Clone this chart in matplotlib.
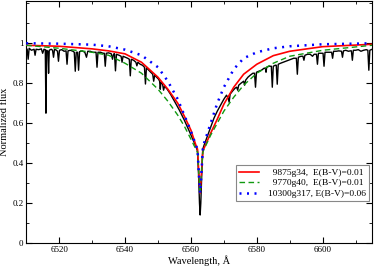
import matplotlib
matplotlib.use('Agg')
import matplotlib.pyplot as plt
from matplotlib.ticker import MultipleLocator

plt.rcParams['font.family'] = ['Liberation Serif', 'DejaVu Serif']

obs_wl = [6510.0, 6510.3, 6510.6, 6510.9, 6511.6, 6512.4, 6512.7, 6513.0, 6513.8, 6514.6,
          6515.0, 6515.4, 6515.8, 6516.0, 6516.2, 6516.6, 6516.8, 6517.0, 6517.6, 6518.0,
          6518.3, 6518.6, 6519.2, 6519.5, 6519.8, 6520.1, 6520.8, 6521.5, 6522.1, 6522.4,
          6522.7, 6523.4, 6524.2, 6524.6, 6524.9, 6525.2, 6525.6, 6525.9, 6526.2, 6527.0,
          6527.8, 6528.3, 6528.7, 6529.4, 6530.2, 6531.2, 6531.5, 6531.8, 6532.6, 6533.3,
          6533.7, 6534.0, 6534.3, 6535.0, 6535.8, 6536.2, 6536.5, 6536.8, 6537.1, 6537.4,
          6538.2, 6538.8, 6539.1, 6539.4, 6540.1, 6540.8, 6541.3, 6541.6, 6541.9, 6542.6,
          6543.3, 6543.6, 6543.9, 6544.6, 6545.3, 6545.9, 6546.2, 6546.5, 6547.2, 6547.8,
          6548.4, 6548.7, 6549.0, 6549.6, 6550.2, 6550.5, 6550.7, 6550.9, 6551.4, 6551.7,
          6552.0, 6552.8, 6553.8, 6555.0, 6556.5, 6558.0, 6559.5, 6560.8, 6561.6, 6562.0,
          6562.3, 6562.6, 6562.8, 6563.0, 6563.3, 6563.6, 6564.0, 6565.0, 6566.0, 6567.0,
          6568.0, 6569.0, 6570.0, 6570.8, 6571.3, 6571.6, 6571.9, 6572.6, 6573.4, 6573.9,
          6574.2, 6574.5, 6575.2, 6576.0, 6576.3, 6576.6, 6577.3, 6578.0, 6578.8, 6579.3,
          6579.6, 6579.9, 6580.6, 6581.4, 6582.2, 6582.6, 6582.8, 6583.0, 6583.7, 6584.4,
          6584.7, 6585.0, 6585.6, 6585.9, 6586.2, 6586.5, 6587.2, 6588.0, 6588.8, 6589.6,
          6590.4, 6591.2, 6592.0, 6592.3, 6592.6, 6593.4, 6594.0, 6594.3, 6594.6, 6595.4,
          6596.2, 6596.9, 6597.4, 6598.1, 6598.4, 6598.7, 6599.4, 6600.1, 6600.4, 6600.7,
          6601.4, 6602.2, 6602.7, 6603.0, 6603.3, 6604.1, 6604.9, 6605.7, 6606.0, 6606.3,
          6607.0, 6607.8, 6608.4, 6608.7, 6609.0, 6609.3, 6610.0, 6610.8, 6611.6, 6612.4,
          6613.2, 6613.7, 6614.0, 6614.3, 6615.0]
obs_flux = [0.975, 0.97, 0.92, 0.975, 0.965, 0.97, 0.94, 0.97, 0.968, 0.972,
            0.95, 0.97, 0.968, 0.65, 0.965, 0.96, 0.85, 0.965, 0.97, 0.965,
            0.93, 0.97, 0.965, 0.96, 0.91, 0.965, 0.968, 0.96, 0.962, 0.895,
            0.962, 0.965, 0.96, 0.955, 0.86, 0.955, 0.955, 0.865, 0.958, 0.962,
            0.955, 0.93, 0.96, 0.96, 0.955, 0.955, 0.88, 0.955, 0.955, 0.95,
            0.95, 0.885, 0.95, 0.952, 0.948, 0.92, 0.945, 0.948, 0.862, 0.945,
            0.94, 0.935, 0.905, 0.935, 0.93, 0.925, 0.92, 0.837, 0.92, 0.915,
            0.905, 0.887, 0.905, 0.895, 0.89, 0.88, 0.796, 0.877, 0.865, 0.855,
            0.845, 0.81, 0.84, 0.83, 0.82, 0.81, 0.77, 0.805, 0.795, 0.765,
            0.785, 0.77, 0.745, 0.71, 0.665, 0.615, 0.56, 0.51, 0.48, 0.46,
            0.35, 0.20, 0.14, 0.20, 0.35, 0.47, 0.49, 0.535, 0.58, 0.625,
            0.66, 0.69, 0.72, 0.74, 0.725, 0.705, 0.745, 0.76, 0.775, 0.78,
            0.765, 0.79, 0.80, 0.81, 0.79, 0.815, 0.83, 0.84, 0.85, 0.85,
            0.78, 0.855, 0.86, 0.865, 0.875, 0.875, 0.855, 0.88, 0.885, 0.885,
            0.78, 0.885, 0.89, 0.89, 0.795, 0.895, 0.90, 0.905, 0.91, 0.915,
            0.92, 0.925, 0.925, 0.845, 0.93, 0.935, 0.935, 0.915, 0.94, 0.945,
            0.945, 0.935, 0.945, 0.945, 0.895, 0.95, 0.95, 0.95, 0.885, 0.955,
            0.955, 0.955, 0.955, 0.925, 0.96, 0.96, 0.962, 0.96, 0.93, 0.962,
            0.965, 0.96, 0.962, 0.962, 0.915, 0.965, 0.965, 0.968, 0.96, 0.965,
            0.968, 0.965, 0.865, 0.965, 0.97]

# model profiles
mod_wl = [6510, 6520, 6530, 6535, 6540, 6545, 6550, 6553, 6556, 6558, 6560, 6561.5,
          6562, 6562.4, 6562.8, 6563.2, 6563.6, 6564, 6566, 6568, 6570, 6573, 6576,
          6580, 6585, 6590, 6600, 6615]
red_flux = [0.99, 0.985, 0.972, 0.962, 0.947, 0.905, 0.83, 0.77, 0.70, 0.635, 0.565, 0.49,
            0.47, 0.35, 0.25, 0.35, 0.46, 0.475, 0.55, 0.62, 0.695, 0.78, 0.845,
            0.895, 0.938, 0.96, 0.983, 0.995]
green_flux = [0.99, 0.975, 0.955, 0.94, 0.90, 0.85, 0.77, 0.71, 0.64, 0.585, 0.52, 0.47,
              0.455, 0.35, 0.25, 0.35, 0.455, 0.47, 0.54, 0.60, 0.66, 0.73, 0.79,
              0.85, 0.90, 0.935, 0.965, 0.99]
blue_flux = [1.0, 0.998, 0.993, 0.985, 0.968, 0.94, 0.88, 0.81, 0.72, 0.64, 0.56, 0.49,
             0.47, 0.35, 0.25, 0.35, 0.47, 0.50, 0.60, 0.70, 0.78, 0.87, 0.925,
             0.955, 0.975, 0.985, 0.995, 1.0]

labels = ['  9875g34,  E(B-V)=0.01', '  9770g40,  E(B-V)=0.01', '10300g317, E(B-V)=0.06']

fig = plt.figure(figsize=(3.74, 2.67), dpi=100)
ax = fig.add_axes([0.07, 0.09, 0.925, 0.905])

ax.plot(obs_wl, obs_flux, color='black', lw=1.0, zorder=2)
ax.plot(mod_wl, red_flux, color='#ff0000', lw=1.2, label=labels[0], zorder=3)
ax.plot(mod_wl, green_flux, color='#119911', lw=1.0, ls=(0, (4, 2.5)), label=labels[1], zorder=3)
ax.plot(mod_wl, blue_flux, color='#0000ff', lw=1.8, ls=(0, (0.8, 2.2)), label=labels[2], zorder=3)

ax.set_xlim(6510, 6615)
ax.set_ylim(0, 1.21)
ax.xaxis.set_major_locator(MultipleLocator(20))
ax.xaxis.set_minor_locator(MultipleLocator(10))
ax.yaxis.set_major_locator(MultipleLocator(0.2))
ax.yaxis.set_minor_locator(MultipleLocator(0.1))
ax.set_yticks([0, 0.2, 0.4, 0.6, 0.8, 1.0])
ax.set_yticklabels(['0', '0.2', '0.4', '0.6', '0.8', '1'])
ax.tick_params(which='both', direction='in', top=True, right=True, labelsize=6.5, pad=2)
ax.tick_params(which='major', length=4)
ax.tick_params(which='minor', length=2)

ax.set_xlabel('Wavelength, Å', fontsize=7.5, labelpad=1)
ax.set_ylabel('Normalized flux', fontsize=7.5, labelpad=2)

leg = ax.legend(loc='lower right', bbox_to_anchor=(0.99, 0.175), fontsize=6.8,
                fancybox=False, framealpha=1, edgecolor='#888888', handlelength=2.2,
                borderpad=0.3, labelspacing=0.2, handletextpad=0.9, borderaxespad=0)
leg.get_frame().set_linewidth(0.8)

fig.savefig('out.png', dpi=100)
